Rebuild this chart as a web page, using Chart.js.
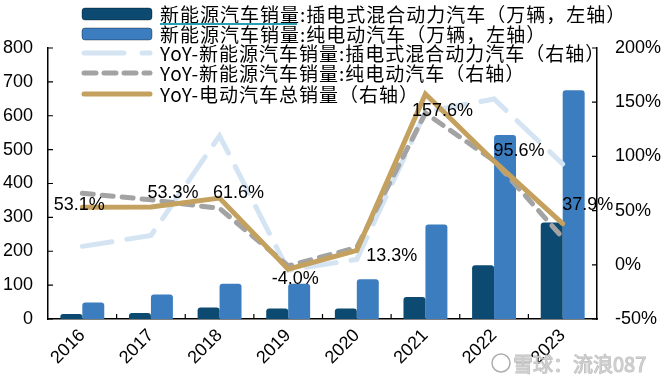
<!DOCTYPE html>
<html>
<head>
<meta charset="utf-8">
<script src="https://cdn.jsdelivr.net/npm/chart.js@4.4.0/dist/chart.umd.min.js"></script>
<style>
  body { margin: 0; background: #fff; }
  #wrap { position: relative; width: 669px; height: 384px; }
</style>
</head>
<body>
<div id="wrap"><canvas id="myChart" width="669" height="384"></canvas></div>
<script>
// values
var years = ['2016', '2017', '2018', '2019', '2020', '2021', '2022', '2023'];
var phevSales = [15, 18, 34, 31, 31, 65, 159, 285];      // 万辆
var bevSales = [49, 72, 104, 104, 117, 279, 543, 675];   // 万辆
var phevYoY = [17, 27, 119, -5, 5, 141, 153, 93];        // %
var bevYoY = [66, 60, 52, -1, 16, 140, 96, 25];          // %
var totalYoY = [53.1, 53.3, 61.6, -4.0, 13.3, 157.6, 95.6, 37.9];
var leftTicks = [0, 100, 200, 300, 400, 500, 600, 700, 800];
var rightTicks = [-50, 0, 50, 100, 150, 200];
var watermark = '雪球：流浪087';

// where each total-YoY label sits relative to its point
var labelShift = [[-3, -2], [22, -14], [19, -5], [7, 10], [35, 6], [17, 17], [25, -10], [25, -19]];

var numFont = { family: 'Liberation Sans, Arial, sans-serif', size: 18 };
var cjkFont = '19px "Noto Sans CJK SC", sans-serif';

var innerTicks = {
  id: 'innerTicks',
  beforeDatasetsDraw: function (chart) {
    var ctx = chart.ctx, a = chart.chartArea;
    var sx = chart.scales.x, sy = chart.scales.y, sy1 = chart.scales.y1;
    ctx.save();
    ctx.strokeStyle = '#000';
    ctx.lineWidth = 1.2;
    ctx.beginPath();
    sy.ticks.forEach(function (t, i) {
      var y = sy.getPixelForTick(i);
      ctx.moveTo(a.left, y); ctx.lineTo(a.left + 5, y);
    });
    sy1.ticks.forEach(function (t, i) {
      var y = sy1.getPixelForTick(i);
      ctx.moveTo(a.right, y); ctx.lineTo(a.right - 5, y);
    });
    var half = (sx.getPixelForValue(1) - sx.getPixelForValue(0)) / 2;
    for (var i = 1; i < years.length; i++) {
      var x = sx.getPixelForValue(i) - half;
      ctx.moveTo(x, a.bottom); ctx.lineTo(x, a.bottom - 5);
    }
    ctx.stroke();
    ctx.restore();
  }
};

var pctLabels = {
  id: 'pctLabels',
  afterDatasetsDraw: function (chart) {
    var ctx = chart.ctx;
    var meta = chart.getDatasetMeta(4);
    ctx.save();
    ctx.font = '18px Liberation Sans, Arial, sans-serif';
    ctx.fillStyle = '#000';
    ctx.textAlign = 'center';
    ctx.textBaseline = 'middle';
    meta.data.forEach(function (pt, i) {
      ctx.fillText(totalYoY[i].toFixed(1) + '%', pt.x + labelShift[i][0], pt.y + labelShift[i][1]);
    });
    ctx.restore();
  }
};

var topLegend = {
  id: 'topLegend',
  afterDraw: function (chart) {
    var ctx = chart.ctx;
    var rows = [14, 34, 53, 73, 94];
    ctx.save();
    ctx.font = cjkFont;
    ctx.letterSpacing = '1px';
    ctx.textBaseline = 'middle';
    chart.data.datasets.forEach(function (ds, i) {
      var y = rows[i];
      if (ds.type === 'bar') {
        ctx.fillStyle = ds.backgroundColor;
        ctx.beginPath();
        ctx.roundRect(82, y - 6, 70, 12, 3);
        ctx.fill();
        ctx.strokeStyle = 'rgba(0,0,0,0.35)';
        ctx.lineWidth = 1;
        ctx.stroke();
      } else {
        ctx.strokeStyle = ds.borderColor;
        ctx.lineWidth = 5;
        ctx.lineCap = 'round';
        ctx.setLineDash(ds.legendDash || []);
        ctx.beginPath();
        ctx.moveTo(84, y); ctx.lineTo(150, y);
        ctx.stroke();
        ctx.setLineDash([]);
      }
      ctx.fillStyle = '#000';
      ctx.fillText(ds.label, 160, y + 1);
    });
    // teal underline under the first words of row 1
    ctx.strokeStyle = '#2a9fb0';
    ctx.lineWidth = 2;
    ctx.lineCap = 'butt';
    ctx.beginPath();
    ctx.moveTo(160, 24); ctx.lineTo(297, 24);
    ctx.stroke();

    // watermark
    ctx.letterSpacing = '0px';
    ctx.strokeStyle = 'rgba(120,120,120,0.6)';
    ctx.lineWidth = 1.5;
    ctx.beginPath();
    ctx.arc(501, 363, 9, 0, Math.PI * 2);
    ctx.stroke();
    ctx.font = '20px "Noto Sans CJK SC", sans-serif';
    ctx.fillStyle = 'rgba(205,205,205,0.9)';
    ctx.strokeStyle = 'rgba(110,110,110,0.45)';
    ctx.lineWidth = 1;
    ctx.textAlign = 'left';
    ctx.strokeText(watermark, 513, 364);
    ctx.fillText(watermark, 513, 364);
    ctx.restore();
  }
};

var ctx = document.getElementById('myChart').getContext('2d');
var myChart = new Chart(ctx, {
  data: {
    labels: years,
    datasets: [
      {
        type: 'bar',
        label: '新能源汽车销量:插电式混合动力汽车（万辆，左轴）',
        data: phevSales,
        backgroundColor: '#0C4A72',
        borderRadius: 3,
        borderSkipped: 'bottom',
        categoryPercentage: 0.64,
        barPercentage: 1.0,
        yAxisID: 'y',
        order: 3
      },
      {
        type: 'bar',
        label: '新能源汽车销量:纯电动汽车（万辆，左轴）',
        data: bevSales,
        backgroundColor: '#3C7DC0',
        borderRadius: 3,
        borderSkipped: 'bottom',
        categoryPercentage: 0.64,
        barPercentage: 1.0,
        yAxisID: 'y',
        order: 3
      },
      {
        type: 'line',
        label: 'YoY-新能源汽车销量:插电式混合动力汽车（右轴）',
        data: phevYoY,
        borderColor: '#D5E4F2',
        borderWidth: 5,
        borderDash: [30, 15],
        legendDash: [40, 18],
        borderCapStyle: 'round',
        pointRadius: 0,
        tension: 0,
        yAxisID: 'y1',
        order: 2
      },
      {
        type: 'line',
        label: 'YoY-新能源汽车销量:纯电动汽车（右轴）',
        data: bevYoY,
        borderColor: '#A3A3A3',
        borderWidth: 5,
        borderDash: [11, 9],
        legendDash: [12, 8],
        borderCapStyle: 'round',
        pointRadius: 0,
        tension: 0,
        yAxisID: 'y1',
        order: 1
      },
      {
        type: 'line',
        label: 'YoY-电动汽车总销量（右轴）',
        data: totalYoY,
        borderColor: '#C4A15E',
        borderWidth: 5,
        borderCapStyle: 'round',
        borderJoinStyle: 'miter',
        pointRadius: 0,
        tension: 0,
        yAxisID: 'y1',
        order: 0
      }
    ]
  },
  options: {
    responsive: false,
    animation: false,
    layout: { padding: { top: 48, left: 0, right: 0, bottom: 0 } },
    plugins: {
      legend: { display: false },
      tooltip: { enabled: false }
    },
    scales: {
      x: {
        grid: { display: false, drawTicks: false },
        border: { display: true, color: '#000', width: 1.5 },
        ticks: { color: '#000', font: numFont, minRotation: 45, maxRotation: 45, padding: 6 },
        afterFit: function (s) { s.height = 65; }
      },
      y: {
        position: 'left',
        min: 0,
        max: 800,
        afterBuildTicks: function (s) { s.ticks = leftTicks.map(function (v) { return { value: v }; }); },
        grid: { display: false, drawTicks: false },
        border: { display: true, color: '#000', width: 1.5 },
        ticks: { color: '#000', font: numFont, padding: 15 },
        afterFit: function (s) { s.width = 48; }
      },
      y1: {
        position: 'right',
        min: -50,
        max: 200,
        afterBuildTicks: function (s) { s.ticks = rightTicks.map(function (v) { return { value: v }; }); },
        grid: { display: false, drawTicks: false },
        border: { display: true, color: '#000', width: 1.5 },
        ticks: { color: '#000', font: numFont, padding: 18, callback: function (v) { return v + '%'; } },
        afterFit: function (s) { s.width = 72; }
      }
    }
  },
  plugins: [innerTicks, pctLabels, topLegend]
});
</script>
</body>
</html>
